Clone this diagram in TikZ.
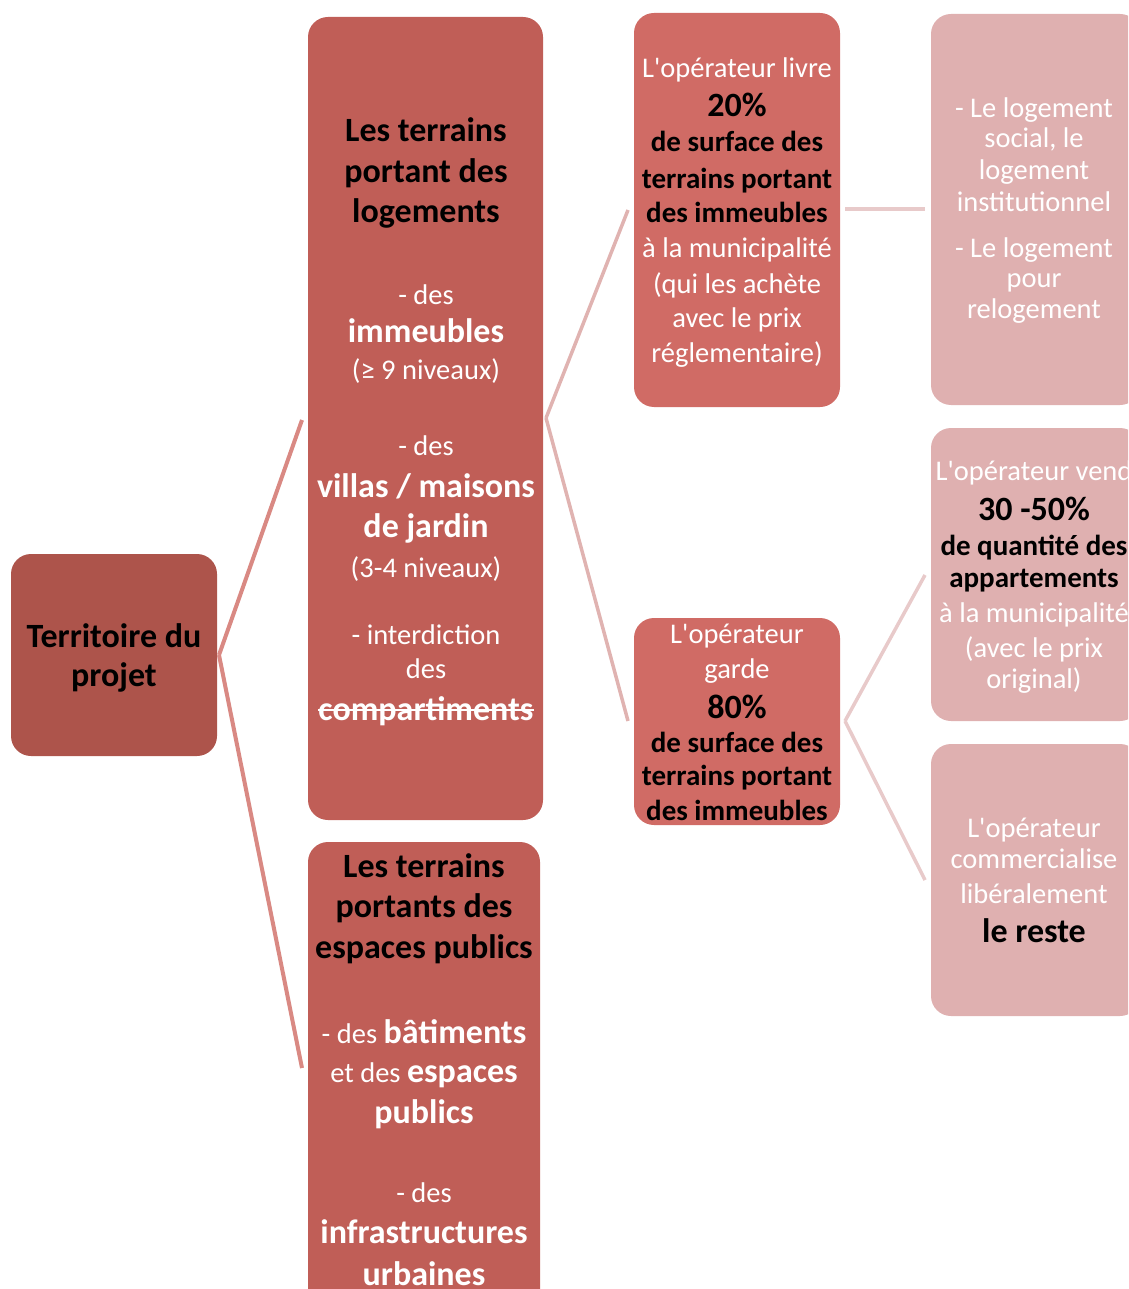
\documentclass[tikz,border=0pt]{standalone}
\usepackage{fontspec}
\setmainfont{Carlito}[Ligatures=TeXOff]
\definecolor{cRoot}{HTML}{AD544B}
\definecolor{cA}{HTML}{C05E57}
\definecolor{cC}{HTML}{D06B65}
\definecolor{cE}{HTML}{DFB0B0}
\definecolor{lnA}{HTML}{D98983}
\definecolor{lnB}{HTML}{E0B3B1}
\definecolor{lnC}{HTML}{E8CACA}
\begin{document}
\begin{tikzpicture}[x=1pt,y=-1pt,
  box/.style={draw=none,rounded corners=20pt},
  R/.style={anchor=base,inner sep=0pt,text=white,font=\fontsize{28.5}{34}\selectfont},
  RB/.style={anchor=base,inner sep=0pt,text=white,font=\fontsize{34}{41}\selectfont\bfseries},
  T/.style={anchor=base,inner sep=0pt,text=black,font=\fontsize{34}{41}\selectfont\bfseries},
  S/.style={anchor=base,inner sep=0pt,text=black,font=\fontsize{29}{35}\selectfont\bfseries},
  c1/.style={line width=4pt,draw=lnA},
  c2/.style={line width=3.5pt,draw=lnB},
  c3/.style={line width=3.5pt,draw=lnC}]
\useasboundingbox (0,0) rectangle (1128,1289);
\clip (0,0) rectangle (1128,1289);
% boxes
\fill[cRoot,box] (11,554) rectangle (217,756);
\coordinate (rootE) at (219,655);
\fill[cA,box] (308,17) rectangle (543,820);
\coordinate (aW) at (302,420);
\coordinate (aE) at (546,418);
\fill[cA,box] (308,842) rectangle (540,1320);
\coordinate (bW) at (302,1068);
\fill[cC,box] (634,13) rectangle (840,407);
\coordinate (cW) at (628,210);
\coordinate (cE) at (845,209);
\fill[cC,box] (634,618) rectangle (840,825);
\coordinate (dW) at (628,721);
\coordinate (dE) at (845,721);
\fill[cE,box] (931,14) rectangle (1140,405);
\coordinate (eW) at (925,209);
\fill[cE,box] (931,428) rectangle (1140,721);
\coordinate (fW) at (925,575);
\fill[cE,box] (931,744) rectangle (1140,1016);
\coordinate (gW) at (925,880);
% connectors
\draw[c1] (rootE) -- (aW);
\draw[c1] (rootE) -- (bW);
\draw[c2] (aE) -- (cW);
\draw[c2] (aE) -- (dW);
\draw[c3] (cE) -- (eW);
\draw[c3] (dE) -- (fW);
\draw[c3] (dE) -- (gW);
% root text
\node[T] (r1) at (114,647) {Territoire du};
\node[T] (r2) at (114,686) {projet};
% A text
\node[T] (a1) at (426,142) {Les terrains};
\node[T] (a2) at (426,183) {portant des};
\node[T] (a3) at (426,223) {logements};
\node[R] (a4) at (426,304) {- des};
\node[RB] (a5) at (426,342) {immeubles};
\node[R] (a6) at (426,379) {(≥ 9 niveaux)};
\node[R] (a7) at (426,455) {- des};
\node[RB] (a8) at (426,497) {villas / maisons};
\node[RB] (a9) at (426,537) {de jardin};
\node[R] (a10) at (426,577) {(3-4 niveaux)};
\node[R] (a11) at (426,644) {- interdiction};
\node[R] (a12) at (426,678) {des};
\node[RB] (a13) at (426,720) {compartiments};
\draw[white,line width=2pt] ([yshift=10pt]a13.base west) -- ([yshift=10pt]a13.base east);
% B text
\node[T] (b1) at (424,877) {Les terrains};
\node[T] (b2) at (424,917) {portants des};
\node[T] (b3) at (424,958) {espaces publics};
\node[anchor=base,inner sep=0pt,text=white] (b4) at (424,1043) {\fontsize{28.5}{34}\selectfont - des \fontsize{34}{41}\selectfont\bfseries bâtiments};
\node[anchor=base,inner sep=0pt,text=white] (b5) at (424,1082) {\fontsize{28.5}{34}\selectfont et des \fontsize{34}{41}\selectfont\bfseries espaces};
\node[RB] (b6) at (424,1123) {publics};
\node[R] (b7) at (424,1202) {- des};
\node[RB] (b8) at (424,1243) {infrastructures};
\node[RB] (b9) at (424,1285) {urbaines};
% C text
\node[R] (c1) at (737,78) {L'opérateur livre};
\node[T] (c2) at (737,117) {20\%};
\node[S] (c3) at (737,152) {de surface des};
\node[S] (c4) at (737,189) {terrains portant};
\node[S] (c5) at (737,223) {des immeubles};
\node[R] (c6) at (737,258) {à la municipalité};
\node[R] (c7) at (737,293) {(qui les achète};
\node[R] (c8) at (737,327) {avec le prix};
\node[R] (c9) at (737,362) {réglementaire)};
% D text
\node[R] (d1) at (737,643) {L'opérateur};
\node[R] (d2) at (737,678) {garde};
\node[T] (d3) at (737,718) {80\%};
\node[S] (d4) at (737,752) {de surface des};
\node[S] (d5) at (737,785) {terrains portant};
\node[S] (d6) at (737,820) {des immeubles};
% E text
\node[R] (e1) at (1034,118) {- Le logement};
\node[R] (e2) at (1034,148) {social, le};
\node[R] (e3) at (1034,180) {logement};
\node[R] (e4) at (1034,212) {institutionnel};
\node[R] (e5) at (1034,258) {- Le logement};
\node[R] (e6) at (1034,287) {pour};
\node[R] (e7) at (1034,318) {relogement};
% F text
\node[R] (f1) at (1034,480) {L'opérateur vend};
\node[T] (f2) at (1034,520) {30 -50\%};
\node[S] (f3) at (1034,555) {de quantité des};
\node[S] (f4) at (1034,587) {appartements};
\node[R] (f5) at (1034,622) {à la municipalité};
\node[R] (f6) at (1034,657) {(avec le prix};
\node[R] (f7) at (1034,688) {original)};
% G text
\node[R] (g1) at (1034,837) {L'opérateur};
\node[R] (g2) at (1034,868) {commercialise};
\node[R] (g3) at (1034,903) {libéralement};
\node[T] (g4) at (1034,942) {le reste};
\end{tikzpicture}
\end{document}
